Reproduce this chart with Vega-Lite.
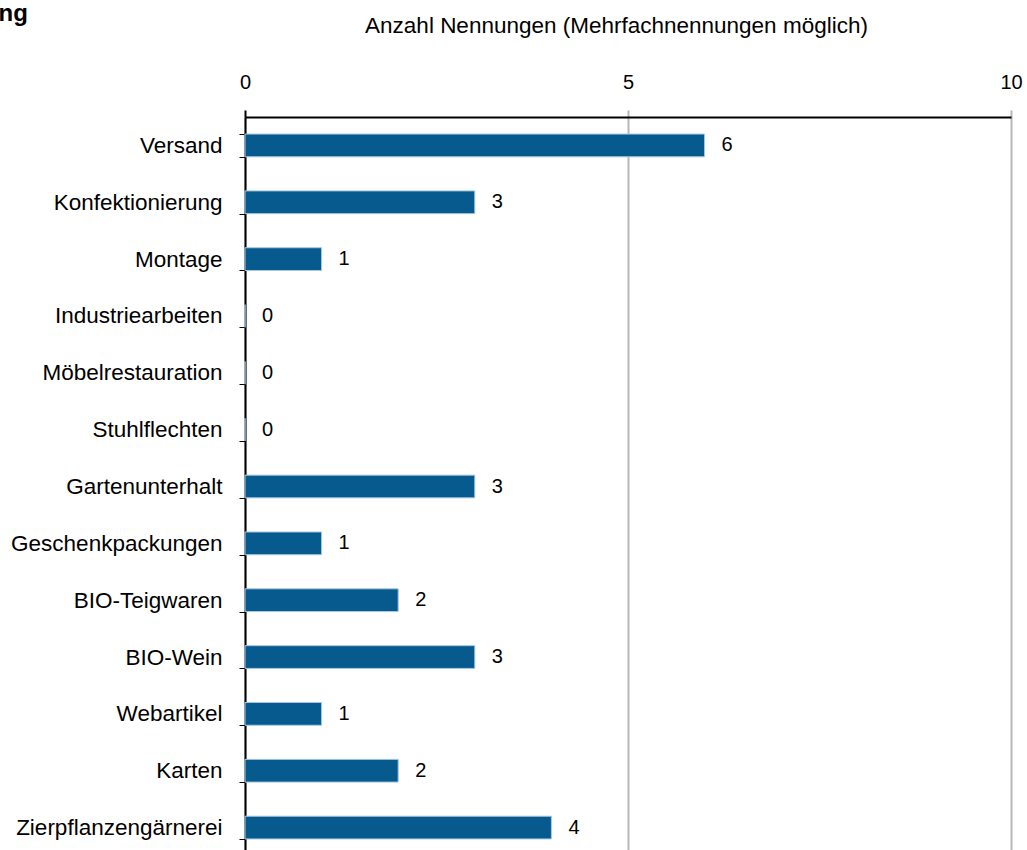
{
  "$schema": "https://vega.github.io/schema/vega-lite/v6.json",
  "autosize": {"type": "none"},
  "width": 766,
  "height": 739,
  "padding": {"left": 245, "top": 117, "right": 16, "bottom": 0},
  "background": "white",
  "title": {"text": "ng", "anchor": "start", "frame": "bounds", "font": "Liberation Sans", "fontSize": 24, "fontWeight": "bold", "color": "#000000", "dx": -12, "dy": 12, "offset": 0},
  "data": {"values": [
    {"cat": "Versand", "n": 6},
    {"cat": "Konfektionierung", "n": 3},
    {"cat": "Montage", "n": 1},
    {"cat": "Industriearbeiten", "n": 0},
    {"cat": "Möbelrestauration", "n": 0},
    {"cat": "Stuhlflechten", "n": 0},
    {"cat": "Gartenunterhalt", "n": 3},
    {"cat": "Geschenkpackungen", "n": 1},
    {"cat": "BIO-Teigwaren", "n": 2},
    {"cat": "BIO-Wein", "n": 3},
    {"cat": "Webartikel", "n": 1},
    {"cat": "Karten", "n": 2},
    {"cat": "Zierpflanzengärnerei", "n": 4}
  ]},
  "config": {
    "view": {"stroke": null},
    "font": "Liberation Sans",
    "axis": {"labelFont": "Liberation Sans", "titleFont": "Liberation Sans"}
  },
  "encoding": {
    "y": {
      "field": "cat", "type": "nominal", "sort": null,
      "scale": {"paddingInner": 0.6, "paddingOuter": 0.3},
      "axis": {"title": null, "labelFontSize": 22.5, "labelColor": "#000000", "labelPadding": 17, "tickBand": "extent", "ticks": true, "tickSize": 6, "tickColor": "#000000", "tickWidth": 1, "domainColor": "#000000", "domainWidth": 2, "grid": false, "labelLimit": 400}
    }
  },
  "layer": [
    {
      "mark": {"type": "bar", "color": "#065a8e", "stroke": "#a9c8e0", "strokeWidth": 1},
      "encoding": {
        "x": {
          "field": "n", "type": "quantitative",
          "scale": {"domain": [0, 10], "nice": false},
          "axis": {
            "orient": "top", "values": [0, 5, 10], "format": "d",
            "title": "Anzahl Nennungen (Mehrfachnennungen möglich)",
            "titleFontSize": 22.5, "titleFontWeight": "normal", "titleColor": "#000000",
            "titleX": 371, "titleY": -85, "titleAlign": "center", "titleBaseline": "alphabetic",
            "labelFontSize": 20, "labelColor": "#000000", "labelPadding": 22, "labelBaseline": "alphabetic", "labelFlush": false,
            "grid": true, "gridColor": "#b8b8b8", "gridWidth": 2,
            "ticks": true, "tickSize": 7, "tickWidth": 2,
            "tickColor": {"condition": {"test": "datum.value === 0", "value": "#000000"}, "value": "#b8b8b8"},
            "domainColor": "#000000", "domainWidth": 2
          }
        }
      }
    },
    {
      "mark": {"type": "text", "align": "left", "baseline": "middle", "dx": 17, "fontSize": 20, "color": "#000000"},
      "encoding": {
        "x": {"field": "n", "type": "quantitative"},
        "text": {"field": "n", "type": "quantitative", "format": "d"}
      }
    }
  ]
}
